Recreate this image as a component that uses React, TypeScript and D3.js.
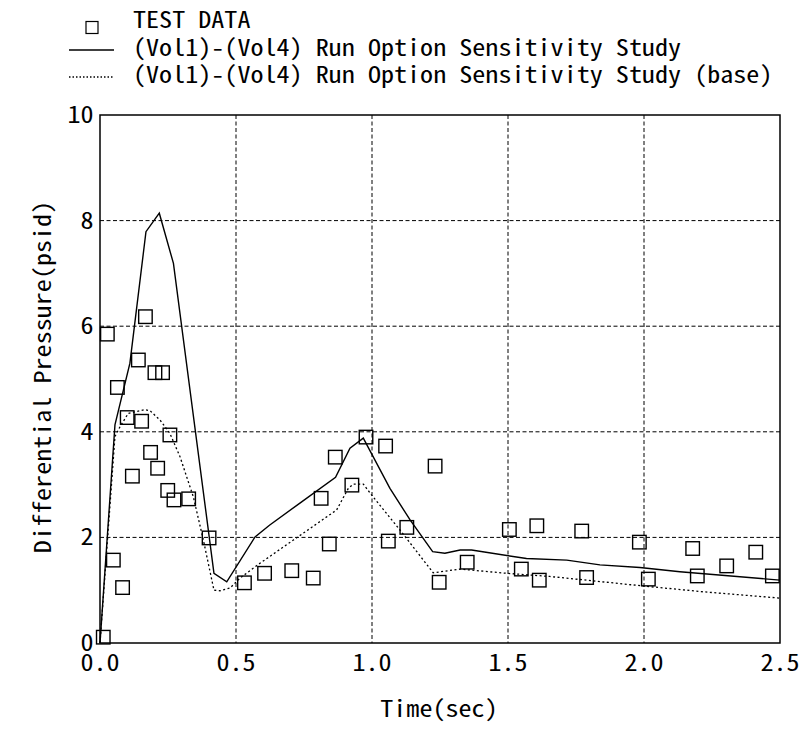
import React from "react";
import * as d3 from "d3";

const xTicks = [0, 0.5, 1.0, 1.5, 2.0, 2.5];
const xTickLabels = ["0.0", "0.5", "1.0", "1.5", "2.0", "2.5"];
const yTicks = [0, 2, 4, 6, 8, 10];
const yTickLabels = ["0", "2", "4", "6", "8", "10"];

const legendLabels = [
  "TEST DATA",
  "(Vol1)-(Vol4) Run Option Sensitivity Study",
  "(Vol1)-(Vol4) Run Option Sensitivity Study (base)",
];

const solidT = [0, 0.055, 0.11, 0.169, 0.218, 0.27, 0.419, 0.466, 0.57, 0.623, 0.735, 0.866, 0.919, 0.968, 1.066, 1.14, 1.223, 1.268, 1.324, 1.366, 1.568, 1.716, 1.838, 1.985, 2.132, 2.5];
const solidV = [0, 4.13, 5.3, 7.79, 8.14, 7.19, 1.32, 1.16, 2.01, 2.23, 2.65, 3.14, 3.69, 3.88, 2.93, 2.33, 1.73, 1.70, 1.76, 1.76, 1.60, 1.57, 1.48, 1.43, 1.35, 1.19];

const baseT = [0, 0.055, 0.074, 0.104, 0.165, 0.184, 0.221, 0.257, 0.294, 0.343, 0.38, 0.419, 0.441, 0.478, 0.515, 0.588, 0.711, 0.87, 0.913, 0.931, 0.968, 0.999, 1.103, 1.225, 1.324, 1.495, 1.654, 1.789, 1.997, 2.218, 2.5];
const baseV = [0, 3.91, 4.1, 4.35, 4.42, 4.40, 4.22, 3.97, 3.53, 2.77, 1.95, 1.0, 0.99, 1.04, 1.23, 1.51, 1.95, 2.52, 2.93, 3.01, 3.01, 2.80, 2.14, 1.33, 1.40, 1.32, 1.26, 1.19, 1.08, 0.97, 0.85];

const testT = [0.012, 0.027, 0.049, 0.064, 0.083, 0.100, 0.119, 0.141, 0.153, 0.167, 0.186, 0.202, 0.212, 0.230, 0.257, 0.249, 0.272, 0.326, 0.401, 0.531, 0.605, 0.705, 0.784, 0.813, 0.843, 0.865, 0.926, 0.978, 1.05, 1.06, 1.128, 1.232, 1.247, 1.35, 1.505, 1.549, 1.606, 1.615, 1.771, 1.789, 1.983, 2.016, 2.179, 2.196, 2.304, 2.411, 2.472];
const testV = [0.11, 5.85, 1.57, 4.84, 1.05, 4.27, 3.16, 5.36, 4.20, 6.18, 3.61, 5.12, 3.31, 5.12, 3.94, 2.89, 2.71, 2.73, 1.99, 1.14, 1.32, 1.37, 1.23, 2.74, 1.875, 3.52, 2.99, 3.90, 3.73, 1.93, 2.19, 3.35, 1.15, 1.53, 2.15, 1.40, 2.22, 1.19, 2.12, 1.24, 1.91, 1.21, 1.79, 1.27, 1.46, 1.72, 1.27];

const FONT = "'Noto Sans Mono CJK JP', 'Noto Sans CJK JP', 'DejaVu Sans Mono', monospace";
const CW = 13.05;

export default function App() {
  const W = 804, H = 729;
  const left = 100, right = 780, top = 115, bottom = 643;
  const x = d3.scaleLinear().domain([0, 2.5]).range([left, right]);
  const y = d3.scaleLinear().domain([0, 10]).range([bottom, top]);
  const line = d3.line<[number, number]>().x(d => x(d[0])).y(d => y(d[1]));
  const solidPts = solidT.map((t, i) => [t, solidV[i]] as [number, number]);
  const basePts = baseT.map((t, i) => [t, baseV[i]] as [number, number]);
  const sq = 13.5;

  const txt = (s: string, props: any) => (
    <text fontFamily={FONT} fontSize={23} fill="#000" textLength={s.length * CW} lengthAdjust="spacingAndGlyphs" {...props}>{s}</text>
  );

  return (
    <svg width={W} height={H} style={{ position: "absolute", left: 0, top: 0, background: "#fff" }}>
      <rect x={0} y={0} width={W} height={H} fill="#fff" />
      {/* legend */}
      <rect x={86} y={21.5} width={12} height={12} fill="none" stroke="#000" strokeWidth={1.2} />
      {txt(legendLabels[0], { x: 133, y: 28 })}
      <line x1={69} x2={114} y1={50} y2={50} stroke="#000" strokeWidth={1.3} />
      {txt(legendLabels[1], { x: 133, y: 55.5 })}
      <line x1={69} x2={114} y1={77} y2={77} stroke="#000" strokeWidth={1.3} strokeDasharray="1.5,2" />
      {txt(legendLabels[2], { x: 133, y: 83 })}

      {/* grid */}
      {xTicks.slice(1, -1).map(t => (
        <line key={"gx" + t} x1={x(t)} x2={x(t)} y1={top} y2={bottom} stroke="#000" strokeWidth={1} strokeDasharray="4,2.5" />
      ))}
      {yTicks.slice(1, -1).map(t => (
        <line key={"gy" + t} x1={left} x2={right} y1={y(t)} y2={y(t)} stroke="#000" strokeWidth={1} strokeDasharray="4,2.5" />
      ))}

      {/* series */}
      <path d={line(basePts) || ""} fill="none" stroke="#000" strokeWidth={1.3} strokeDasharray="2,2.5" />
      <path d={line(solidPts) || ""} fill="none" stroke="#000" strokeWidth={1.4} />
      {testT.map((t, i) => (
        <rect key={"s" + i} x={x(t) - sq / 2} y={y(testV[i]) - sq / 2} width={sq} height={sq} fill="none" stroke="#000" strokeWidth={1.4} />
      ))}

      {/* frame */}
      <rect x={left} y={top} width={right - left} height={bottom - top} fill="none" stroke="#000" strokeWidth={1.5} />

      {/* tick labels */}
      {xTicks.map((t, i) => txt(xTickLabels[i], { key: "xl" + i, x: x(t), y: 671, textAnchor: "middle" }))}
      {yTicks.map((t, i) => txt(yTickLabels[i], { key: "yl" + i, x: 93.5, y: y(t) + 8, textAnchor: "end" }))}

      {/* axis titles */}
      {txt("Time(sec)", { x: 439, y: 717, textAnchor: "middle" })}
      {txt("Differential Pressure(psid)", { x: 0, y: 0, textAnchor: "middle", transform: `translate(51,377) rotate(-90)` })}
    </svg>
  );
}
